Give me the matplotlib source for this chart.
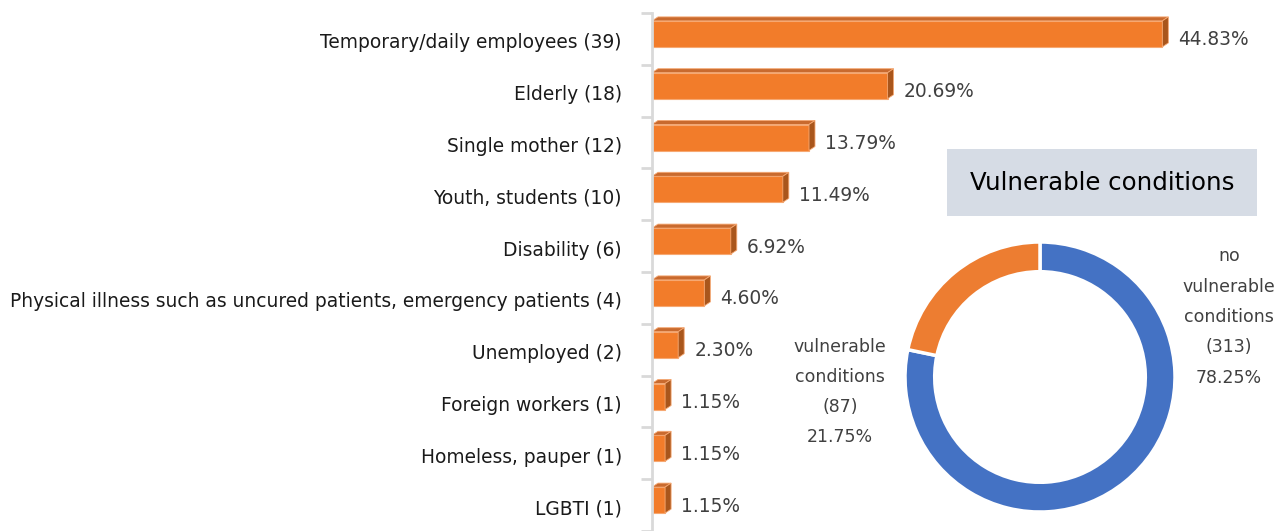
import matplotlib.pyplot as plt
from matplotlib.patches import Polygon, Rectangle
import numpy as np

plt.rcParams['font.family'] = ['DejaVu Sans']

categories = ['Temporary/daily employees (39)', 'Elderly (18)', 'Single mother (12)',
              'Youth, students (10)', 'Disability (6)',
              'Physical illness such as uncured patients, emergency patients (4)',
              'Unemployed (2)', 'Foreign workers (1)', 'Homeless, pauper (1)', 'LGBTI (1)']
percents = [44.83, 20.69, 13.79, 11.49, 6.92, 4.60, 2.30, 1.15, 1.15, 1.15]

donut_labels = ['no\nvulnerable\nconditions\n(313)\n78.25%', 'vulnerable\nconditions\n(87)\n21.75%']
donut_counts = [313, 87]
donut_colors = ['#4472C4', '#ED7D31']

W, H = 1277, 531
fig = plt.figure(figsize=(W / 100, H / 100), dpi=100)

# bar panel, pixel geometry
x0, ytop = 652, 13
ax = fig.add_axes([x0 / W, 0, (W - x0) / W, (H - ytop) / H])
xmax = 54.9
ax.set_xlim(0, xmax)
ax.set_ylim(len(categories) - 0.5, -0.5)
sx = (W - x0) / xmax          # px per percent
sy = (H - ytop) / len(categories)  # px per category
for s in ['top', 'right', 'bottom']:
    ax.spines[s].set_visible(False)
ax.spines['left'].set_color('#D9D9D9')
ax.spines['left'].set_linewidth(2)
ax.set_xticks([])
ax.set_yticks(np.arange(len(categories) + 1) - 0.5)
ax.set_yticklabels([])
ax.tick_params(axis='y', length=8, width=2, color='#D9D9D9')

dx, dy = 6 / sx, 4 / sy
h = 26 / sy
for i, v in enumerate(percents):
    yc = i - 5 / sy
    yt, yb = yc - h / 2, yc + h / 2
    ax.add_patch(Rectangle((0, yt), v, h, facecolor='#F27C2A', edgecolor='#F6A872', lw=0.8))
    ax.add_patch(Polygon([(0, yt), (dx, yt - dy), (v + dx, yt - dy), (v, yt)],
                         closed=True, facecolor='#C96A2E', edgecolor='#F6A872', lw=0.6))
    ax.add_patch(Polygon([(v, yt), (v + dx, yt - dy), (v + dx, yb - dy), (v, yb)],
                         closed=True, facecolor='#A9561C', edgecolor='#F6A872', lw=0.6))
    ax.text(v + dx + 10 / sx, i + 1 / sy, f'{v:.2f}%', va='center', ha='left',
            fontsize=13.4, color='#404040')
    ax.text(-30 / sx, i + 4 / sy, categories[i], va='center', ha='right',
            fontsize=13.4, color='#1A1A1A')

# donut
cx, cy, r = 1040, 377, 135
axd = fig.add_axes([(cx - r) / W, (H - cy - r) / H, 2 * r / W, 2 * r / H])
axd.pie(donut_counts, colors=donut_colors, startangle=90, counterclock=False, radius=1,
        wedgeprops=dict(width=0.22, edgecolor='white', linewidth=2.5))
axd.set_xlim(-1, 1)
axd.set_ylim(-1, 1)
axd.axis('off')

fig.text(1229 / W, 1 - 317 / H, donut_labels[0], ha='center', va='center',
         fontsize=12.5, color='#404040', linespacing=1.88)
fig.text(840 / W, 1 - 392 / H, donut_labels[1], ha='center', va='center',
         fontsize=12.5, color='#404040', linespacing=1.88)

# title box
fig.patches.append(Rectangle((947 / W, 1 - 216 / H), 310 / W, 67 / H,
                             transform=fig.transFigure, facecolor='#D6DCE5', edgecolor='none'))
fig.text(1102 / W, 1 - 183 / H, 'Vulnerable conditions', ha='center', va='center',
         fontsize=17.6, color='black')

fig.savefig('out.png', dpi=100)
